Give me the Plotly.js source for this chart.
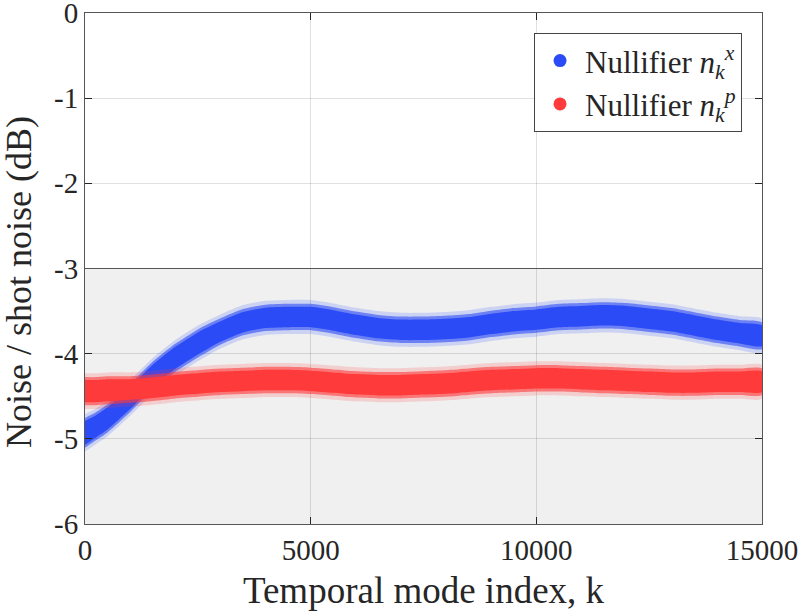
<!DOCTYPE html>
<html>
<head>
<meta charset="utf-8">
<script src="https://cdn.plot.ly/plotly-3.0.1.min.js"></script>
<style>
  html, body { margin: 0; padding: 0; background: #fff; }
  #chart { width: 804px; height: 616px; }
</style>
</head>
<body>
<div id="chart"></div>
<script>
// Temporal mode index k at which the noise bands are sampled
const kSamples = [0, 250, 500, 1000, 1500, 2000, 2500, 3000, 3500, 4000, 4500, 5000,
  5500, 6000, 6500, 7000, 7500, 8000, 8500, 9000, 9500, 10000, 10500, 11000,
  11500, 12000, 12500, 13000, 13500, 14000, 14500, 15000];

// Nullifier n_k^x : centre of the measured noise band (dB) and its half-width
const blueMid = [-4.93, -4.85, -4.76, -4.52, -4.26, -4.05, -3.88, -3.74, -3.63, -3.58,
  -3.57, -3.57, -3.61, -3.66, -3.70, -3.72, -3.72, -3.71, -3.69, -3.65, -3.62, -3.60,
  -3.57, -3.56, -3.55, -3.56, -3.59, -3.62, -3.67, -3.72, -3.76, -3.79];
const blueSpread = [0.14, 0.13, 0.13, 0.13, 0.13, 0.13, 0.13, 0.12, 0.12, 0.12,
  0.12, 0.12, 0.12, 0.12, 0.12, 0.12, 0.12, 0.12, 0.12, 0.12, 0.12, 0.12,
  0.12, 0.12, 0.12, 0.12, 0.12, 0.12, 0.12, 0.12, 0.12, 0.12];

// Nullifier n_k^p : centre of the measured noise band (dB) and its half-width
const redMid = [-4.44, -4.44, -4.43, -4.42, -4.40, -4.37, -4.35, -4.33, -4.32, -4.31,
  -4.31, -4.32, -4.34, -4.36, -4.37, -4.37, -4.36, -4.35, -4.33, -4.31, -4.30, -4.29,
  -4.29, -4.30, -4.31, -4.32, -4.33, -4.34, -4.34, -4.33, -4.33, -4.33];
const redSpread = [0.13, 0.13, 0.13, 0.12, 0.12, 0.12, 0.12, 0.12, 0.12, 0.12,
  0.12, 0.12, 0.12, 0.12, 0.12, 0.12, 0.12, 0.12, 0.12, 0.12, 0.12, 0.12,
  0.12, 0.12, 0.12, 0.12, 0.12, 0.12, 0.12, 0.12, 0.12, 0.12];

const seriesNames = ['Nullifier <i>n</i><sub><i>k</i></sub><sup><i>x</i></sup>',
                     'Nullifier <i>n</i><sub><i>k</i></sub><sup><i>p</i></sup>'];
const xTitle = 'Temporal mode index, k';
const yTitle = 'Noise / shot noise (dB)';
const shotNoiseLimit = -3;          // upper edge of the shaded squeezing region (dB)
const xTickVals = [0, 5000, 10000, 15000];
const xTickText = ['0', '5000', '10000', '15000'];
const yTickVals = [0, -1, -2, -3, -4, -5, -6];
const yTickText = ['0', '-1', '-2', '-3', '-4', '-5', '-6'];

const BLUE = [43, 75, 247];
const RED = [255, 58, 58];
const FONT = "'Liberation Serif', 'Times New Roman', serif";
const INK = '#262626';

// Closed polygon for a band  mid ± (spread + pad)
function bandPolygon(mid, spread, pad) {
  const upper = mid.map((m, i) => m + spread[i] + pad);
  const lower = mid.map((m, i) => m - spread[i] - pad);
  return {
    x: kSamples.concat(kSamples.slice().reverse()),
    y: upper.concat(lower.slice().reverse())
  };
}

// Soft-edged band: sparse outer scatter, denser middle, solid core
function bandTraces(mid, spread, rgb) {
  const layers = [[0.08, 0.18], [0.035, 0.6], [0, 1]];
  return layers.map(([pad, alpha]) => {
    const p = bandPolygon(mid, spread, pad);
    return {
      type: 'scatter', mode: 'lines', x: p.x, y: p.y,
      fill: 'toself',
      fillcolor: `rgba(${rgb[0]},${rgb[1]},${rgb[2]},${alpha})`,
      line: { width: 0, shape: 'spline', smoothing: 0.6 },
      hoverinfo: 'skip', showlegend: false
    };
  });
}

function legendTrace(name, rgb) {
  return {
    type: 'scatter', mode: 'markers', x: [null], y: [null], name: name,
    marker: { size: 13, color: `rgb(${rgb[0]},${rgb[1]},${rgb[2]})` }
  };
}

const traces = []
  .concat(bandTraces(blueMid, blueSpread, BLUE))
  .concat(bandTraces(redMid, redSpread, RED))
  .concat([legendTrace(seriesNames[0], BLUE), legendTrace(seriesNames[1], RED)]);

const axisCommon = {
  showline: true, linecolor: '#555', linewidth: 1, mirror: 'ticks',
  ticks: 'inside', ticklen: 7, tickcolor: INK, tickwidth: 1,
  showgrid: true, gridcolor: 'rgba(0,0,0,0.12)', gridwidth: 1,
  zeroline: false, ticklabeloverflow: 'allow',
  tickfont: { family: FONT, size: 29, color: INK }
};

const layout = {
  width: 804, height: 616,
  margin: { l: 85, r: 42, t: 13, b: 92 },
  paper_bgcolor: '#fff', plot_bgcolor: '#fff',
  font: { family: FONT, color: INK },
  xaxis: Object.assign({}, axisCommon, {
    range: [0, 15000], tickmode: 'array', tickvals: xTickVals, ticktext: xTickText,
    title: { text: xTitle, font: { family: FONT, size: 37, color: INK }, standoff: 12 }
  }),
  yaxis: Object.assign({}, axisCommon, {
    range: [-6, 0], tickmode: 'array', tickvals: yTickVals, ticktext: yTickText
  }),
  // y-axis label, placed as a rotated annotation beside the tick labels
  annotations: [{
    text: yTitle, textangle: -90, showarrow: false,
    xref: 'paper', yref: 'paper', x: -0.0975, y: 0.4736,
    xanchor: 'center', yanchor: 'middle',
    font: { family: FONT, size: 36, color: INK }
  }],
  shapes: [
    { type: 'rect', layer: 'below', xref: 'paper', yref: 'y', x0: 0, x1: 1, y0: -6, y1: shotNoiseLimit,
      fillcolor: '#f0f0f0', line: { width: 0 } },
    { type: 'line', layer: 'above', xref: 'paper', yref: 'y', x0: 0, x1: 1, y0: shotNoiseLimit, y1: shotNoiseLimit,
      line: { color: '#555', width: 1 } }
  ],
  legend: {
    x: 0.9705, y: 0.961, xanchor: 'right', yanchor: 'top',
    bgcolor: '#fff', bordercolor: '#444', borderwidth: 1,
    font: { family: FONT, size: 31, color: INK },
    itemwidth: 40, tracegroupgap: 0
  },
  showlegend: true
};

Plotly.newPlot('chart', traces, layout, { displayModeBar: false, staticPlot: true });
</script>
</body>
</html>
